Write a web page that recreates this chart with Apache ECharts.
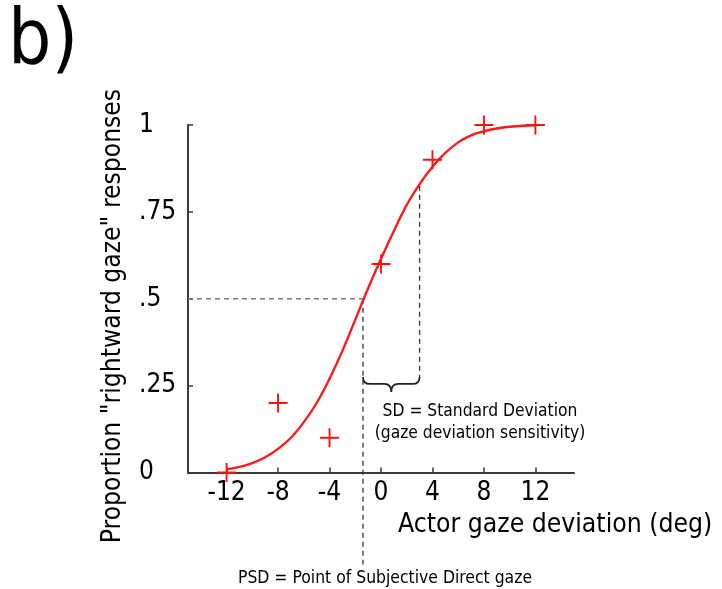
<!DOCTYPE html>
<html>
<head>
<meta charset="utf-8">
<script src="https://cdn.jsdelivr.net/npm/echarts@6/dist/echarts.min.js"></script>
<style>
  html, body { margin: 0; padding: 0; background: #ffffff; }
  #chart { width: 722px; height: 589px; }
</style>
</head>
<body>
<div id="chart"></div>
<script>
const FONT = '"DejaVu Sans Condensed", "DejaVu Sans", sans-serif';

// Observed responses: proportion of "rightward gaze" answers per actor gaze deviation
const gazeDeviation = [-12, -8, -4, 0, 4, 8, 12];
const proportionRight = [0, 0.2, 0.1, 0.6, 0.9, 1, 1];

// Fitted psychometric curve, sampled every degree
const fitX = [-12, -11, -10, -9, -8, -7, -6, -5, -4, -3, -2, -1, 0, 1, 2, 3, 4, 5, 6, 7, 8, 9, 10, 11, 12];
const fitY = [0.009, 0.016, 0.027, 0.044, 0.068, 0.10, 0.145, 0.20, 0.27, 0.35, 0.44, 0.53, 0.615,
              0.695, 0.77, 0.83, 0.88, 0.92, 0.95, 0.97, 0.982, 0.99, 0.995, 0.998, 0.999];

// Axis ticks
const xTicks = [-12, -8, -4, 0, 4, 8, 12];
const yTicks = [0, 0.25, 0.5, 0.75, 1];
const yTickLabels = ['0', '.25', '.5', '.75', '1'];

// Fit parameters and annotation extents (deg / proportion)
const psd = -1.4;          // point of subjective direct gaze
const sd = 4.4;            // standard deviation of the fit
const psdLevel = 0.5;
const psdLineBottom = -0.265;
const sdLineTop = 0.825;
const braceLevel = 0.275;

const chart = echarts.init(document.getElementById('chart'), null, { renderer: 'canvas' });

const fitData = fitX.map((x, i) => [x, fitY[i]]);
const obsData = gazeDeviation.map((x, i) => [x, proportionRight[i]]);

const dashedStyle = (color) => ({ color: color, width: 1.3, type: [5, 4] });

const option = {
  animation: false,
  backgroundColor: '#ffffff',
  grid: { left: 188, right: 148, top: 125, bottom: 116.5, containLabel: false },
  xAxis: {
    type: 'value',
    min: -15,
    max: 15,
    axisLine: { show: true, onZero: false, lineStyle: { color: '#3a3a3a', width: 2 } },
    axisTick: { show: true, inside: true, length: 5, customValues: xTicks, lineStyle: { color: '#3a3a3a', width: 1.5 } },
    axisLabel: { customValues: xTicks, margin: 8, color: '#000', fontFamily: FONT, fontSize: 26 },
    splitLine: { show: false }
  },
  yAxis: {
    type: 'value',
    min: 0,
    max: 1,
    axisLine: { show: true, onZero: false, lineStyle: { color: '#3a3a3a', width: 2 } },
    axisTick: { show: true, inside: true, length: 5, customValues: yTicks, lineStyle: { color: '#3a3a3a', width: 1.5 } },
    axisLabel: {
      customValues: yTicks,
      align: 'left',
      margin: 49,
      color: '#000',
      fontFamily: FONT,
      fontSize: 26,
      formatter: (v) => yTickLabels[yTicks.indexOf(v)]
    },
    splitLine: { show: false }
  },
  series: [
    {
      name: 'psd-horizontal',
      type: 'line',
      data: [[-15, psdLevel], [psd, psdLevel]],
      symbol: 'none',
      lineStyle: dashedStyle('#7a7a7a'),
      clip: false,
      z: 1
    },
    {
      name: 'psd-vertical',
      type: 'line',
      data: [[psd, psdLevel], [psd, psdLineBottom]],
      symbol: 'none',
      lineStyle: dashedStyle('#333333'),
      clip: false,
      z: 1
    },
    {
      name: 'sd-vertical',
      type: 'line',
      data: [[psd + sd, sdLineTop], [psd + sd, braceLevel]],
      symbol: 'none',
      lineStyle: dashedStyle('#333333'),
      clip: false,
      z: 1
    },
    {
      name: 'sd-brace',
      type: 'custom',
      clip: false,
      data: [[psd, psd + sd, braceLevel]],
      renderItem: function (params, api) {
        const a = api.coord([api.value(0), api.value(2)]);
        const b = api.coord([api.value(1), api.value(2)]);
        const x0 = a[0], x1 = b[0], y0 = a[1];
        const xm = (x0 + x1) / 2;
        const h = 7, tip = 15, r = 7;
        const d = 'M' + x0 + ',' + y0 +
          ' Q' + x0 + ',' + (y0 + h) + ' ' + (x0 + r) + ',' + (y0 + h) +
          ' L' + (xm - r) + ',' + (y0 + h) +
          ' Q' + xm + ',' + (y0 + h) + ' ' + xm + ',' + (y0 + tip) +
          ' Q' + xm + ',' + (y0 + h) + ' ' + (xm + r) + ',' + (y0 + h) +
          ' L' + (x1 - r) + ',' + (y0 + h) +
          ' Q' + x1 + ',' + (y0 + h) + ' ' + x1 + ',' + y0;
        return {
          type: 'path',
          shape: { pathData: d },
          style: { fill: 'none', stroke: '#222222', lineWidth: 1.8 }
        };
      },
      z: 2
    },
    {
      name: 'fit',
      type: 'line',
      data: fitData,
      smooth: 0.4,
      symbol: 'none',
      lineStyle: { color: '#ff1a1a', width: 2.4 },
      clip: false,
      z: 3
    },
    {
      name: 'observed',
      type: 'scatter',
      data: obsData,
      symbol: 'path://M9,0h2v9h9v2h-9v9h-2v-9h-9v-2h9z',
      symbolSize: 19,
      symbolKeepAspect: true,
      itemStyle: { color: '#ff1010', opacity: 1 },
      clip: false,
      z: 4
    }
  ],
  graphic: [
    {
      type: 'text',
      left: 8,
      top: 5,
      style: { text: 'b)', fontFamily: FONT, fontSize: 76, fill: '#000' }
    },
    {
      type: 'text',
      x: 113,
      y: 316,
      rotation: Math.PI / 2,
      style: {
        text: 'Proportion "rightward gaze" responses',
        fontFamily: FONT, fontSize: 26.2, fill: '#000',
        align: 'center', verticalAlign: 'middle'
      }
    },
    {
      type: 'text',
      x: 398,
      y: 525,
      style: {
        text: 'Actor gaze deviation (deg)',
        fontFamily: FONT, fontSize: 26.3, fill: '#000',
        align: 'left', verticalAlign: 'middle'
      }
    },
    {
      type: 'text',
      x: 480,
      y: 412,
      style: {
        text: 'SD = Standard Deviation',
        fontFamily: FONT, fontSize: 17.3, fill: '#000',
        align: 'center', verticalAlign: 'middle'
      }
    },
    {
      type: 'text',
      x: 480,
      y: 434,
      style: {
        text: '(gaze deviation sensitivity)',
        fontFamily: FONT, fontSize: 17.3, fill: '#000',
        align: 'center', verticalAlign: 'middle'
      }
    },
    {
      type: 'text',
      x: 385,
      y: 578,
      style: {
        text: 'PSD = Point of Subjective Direct gaze',
        fontFamily: FONT, fontSize: 17.4, fill: '#000',
        align: 'center', verticalAlign: 'middle'
      }
    }
  ]
};

chart.setOption(option);
</script>
</body>
</html>
